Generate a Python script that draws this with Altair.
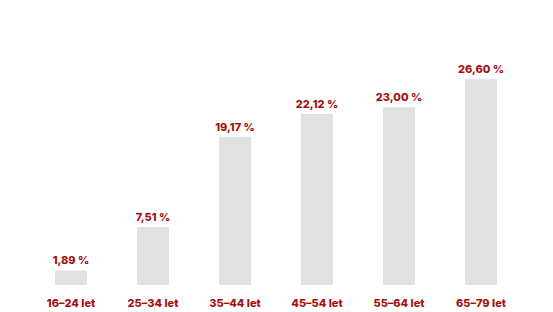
import altair as alt
import pandas as pd

categories = ["16–24 let", "25–34 let", "35–44 let", "45–54 let", "55–64 let", "65–79 let"]
values = [1.89, 7.51, 19.17, 22.12, 23.00, 26.60]
labels = ["1,89 %", "7,51 %", "19,17 %", "22,12 %", "23,00 %", "26,60 %"]

df = pd.DataFrame({"cat": categories, "value": values, "label": labels})

RED = "#A50F0F"
FONT = "Inter"

x = alt.X("cat:N", sort=categories, title=None,
          scale=alt.Scale(paddingInner=0.61, paddingOuter=0.305),
          axis=alt.Axis(domain=False, ticks=False, labelAngle=0, labelPadding=12,
                        labelFont=FONT, labelFontSize=11, labelFontWeight=800,
                        labelColor=RED))
y = alt.Y("value:Q", title=None, scale=alt.Scale(domain=[0, 30], nice=False),
          axis=None)

bars = alt.Chart(df).mark_bar(color="#E1E1E1").encode(x=x, y=y)
text = alt.Chart(df).mark_text(dy=-9, font=FONT, fontSize=11, fontWeight=800,
                               color=RED).encode(x=x, y=y, text="label:N")

chart = (bars + text).properties(
    width=492, height=232,
    autosize=alt.AutoSizeParams(type="none"),
    padding={"left": 30, "top": 53, "right": 31, "bottom": 27},
).configure(background="white").configure_view(stroke=None, strokeWidth=0)

chart.save("out.html", embed_options={"renderer": "svg", "actions": False})
